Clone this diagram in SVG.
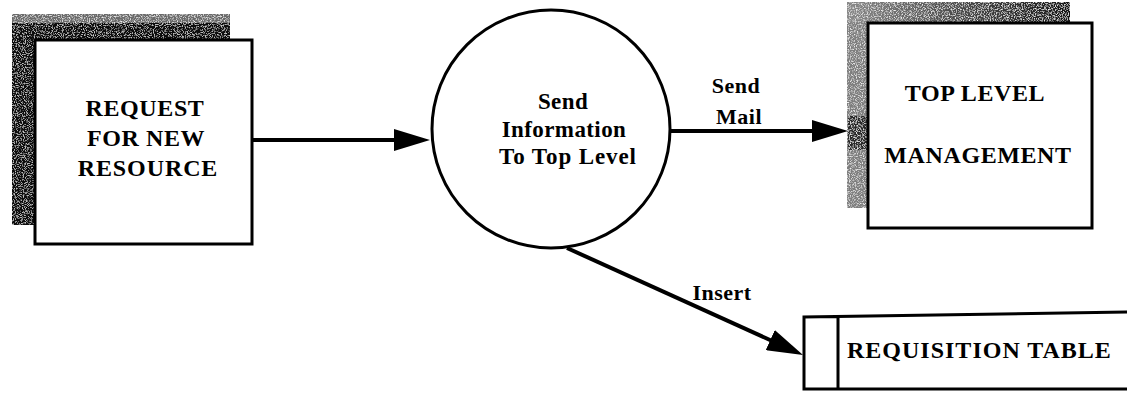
<svg xmlns="http://www.w3.org/2000/svg" width="1132" height="393" viewBox="0 0 1132 393">
  <style>
    .box { fill: #fff; stroke: #000; stroke-width: 3; }
    .proc { fill: #fff; stroke: #000; stroke-width: 3; }
    .store { fill: none; stroke: #000; stroke-width: 3; }
    .flow { fill: none; stroke: #000; stroke-width: 4; marker-end: url(#arrow); }
    text { font-family: "Liberation Serif", "Times New Roman", serif; font-weight: bold; fill: #000; }
    .t24 { font-size: 24px; letter-spacing: 0.6px; text-anchor: middle; }
    .t23 { font-size: 23px; letter-spacing: 0.4px; text-anchor: middle; }
    .lbl { font-size: 22px; letter-spacing: 0.5px; text-anchor: middle; }
  </style>
  <defs>
    <marker id="arrow" markerUnits="userSpaceOnUse" markerWidth="36" markerHeight="22" refX="16" refY="11" orient="auto">
      <path d="M0,0 L36,11 L0,22 Z" fill="#000"/>
    </marker>
    <!-- light speckle over a flat fill -->
    <filter id="grain" x="0" y="0" width="100%" height="100%">
      <feTurbulence type="fractalNoise" baseFrequency="0.85" numOctaves="2" seed="3" result="noise"/>
      <feColorMatrix in="noise" type="matrix" values="0 0 0 0 0.85  0 0 0 0 0.85  0 0 0 0 0.85  0 0 0 -3 1.6" result="spots"/>
      <feComposite in="spots" in2="SourceGraphic" operator="in" result="clip"/>
      <feComposite in="clip" in2="SourceGraphic" operator="over"/>
    </filter>
    <!-- sparse grey speckle for the near-black shadow -->
    <filter id="grainDark" x="0" y="0" width="100%" height="100%">
      <feTurbulence type="fractalNoise" baseFrequency="0.9" numOctaves="2" seed="7" result="noise"/>
      <feColorMatrix in="noise" type="matrix" values="0 0 0 0 0.55  0 0 0 0 0.55  0 0 0 0 0.55  0 0 0 -4 2.0" result="spots"/>
      <feComposite in="spots" in2="SourceGraphic" operator="in" result="clip"/>
      <feComposite in="clip" in2="SourceGraphic" operator="over"/>
    </filter>
    <linearGradient id="topShade" x1="0" y1="0" x2="1" y2="0">
      <stop offset="0" stop-color="#8a8a8a"/>
      <stop offset="0.5" stop-color="#4a4a4a"/>
      <stop offset="1" stop-color="#151515"/>
    </linearGradient>
  </defs>

  <!-- external entity: request -->
  <g id="request">
    <rect x="12" y="14" width="218" height="211" fill="#0d0d0d" filter="url(#grainDark)"/>
    <rect x="12" y="14" width="218" height="9" fill="#6a6a6a" filter="url(#grain)"/>
    <rect class="box" x="35" y="40" width="217" height="204"/>
    <text class="t24" x="145" y="116">REQUEST</text>
    <text class="t24" x="146" y="146">FOR NEW</text>
    <text class="t24" x="148" y="176" style="letter-spacing:0.9px">RESOURCE</text>
  </g>

  <!-- process -->
  <g id="send-info">
    <circle class="proc" cx="551" cy="129" r="119"/>
    <text class="t23" x="563" y="109">Send</text>
    <text class="t23" x="564" y="137">Information</text>
    <text class="t23" x="568" y="164" style="letter-spacing:0.9px">To Top Level</text>
  </g>

  <!-- external entity: management -->
  <g id="management">
    <rect x="847" y="2" width="223" height="206" fill="#7e7e7e" filter="url(#grain)"/>
    <rect x="847" y="2" width="223" height="21" fill="url(#topShade)" filter="url(#grain)"/>
    <rect x="848" y="116" width="20" height="34" fill="#2a2a2a" filter="url(#grain)"/>
    <rect class="box" x="868" y="23" width="224" height="205"/>
    <text class="t24" x="975" y="101">TOP LEVEL</text>
    <text class="t24" x="978" y="163">MANAGEMENT</text>
  </g>

  <!-- data store -->
  <g id="requisition-table">
    <path class="store" d="M1127,312 L804,317 L804,389 L1127,389 M838,317 L838,389"/>
    <text x="847" y="358" font-size="24" letter-spacing="1">REQUISITION TABLE</text>
  </g>

  <!-- data flows -->
  <g id="connectors">
    <line class="flow" x1="252" y1="140" x2="410" y2="140"/>
    <line class="flow" x1="670" y1="131" x2="828" y2="131"/>
    <line class="flow" x1="567" y1="248" x2="784.8" y2="346.7"/>
    <text class="lbl" x="736" y="93">Send</text>
    <text class="lbl" x="739" y="124">Mail</text>
    <text class="lbl" x="722" y="300">Insert</text>
  </g>
</svg>
